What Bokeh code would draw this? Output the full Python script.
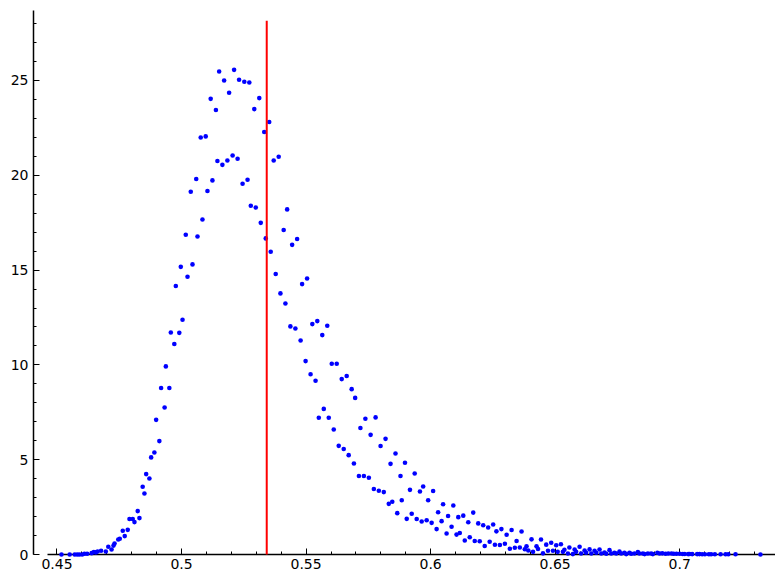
from bokeh.plotting import figure
from bokeh.models import Range1d, SingleIntervalTicker, CustomJSTickFormatter, LinearAxis
from bokeh.embed import file_html
from bokeh.resources import INLINE

# sample ratio values (x) and estimated density (y)
ratio = [
    0.4518, 0.4551, 0.4571, 0.4581, 0.4590, 0.4601, 0.4610, 0.4621, 0.4639, 0.4648,
    0.4656, 0.4663, 0.4677, 0.4696, 0.4706, 0.4719, 0.4727, 0.4731, 0.4746, 0.4752,
    0.4764, 0.4772, 0.4784, 0.4791, 0.4804, 0.4811, 0.4824, 0.4831, 0.4844, 0.4851,
    0.4858, 0.4871, 0.4878, 0.4891, 0.4898, 0.4911, 0.4918, 0.4932, 0.4937, 0.4951,
    0.4957, 0.4971, 0.4977, 0.4991, 0.4997, 0.5004, 0.5017, 0.5024, 0.5037, 0.5044,
    0.5059, 0.5064, 0.5077, 0.5084, 0.5097, 0.5104, 0.5117, 0.5124, 0.5138, 0.5144,
    0.5151, 0.5164, 0.5171, 0.5184, 0.5191, 0.5205, 0.5211, 0.5225, 0.5231, 0.5245,
    0.5252, 0.5265, 0.5272, 0.5278, 0.5292, 0.5298, 0.5312, 0.5318, 0.5332, 0.5338,
    0.5352, 0.5358, 0.5370, 0.5378, 0.5390, 0.5397, 0.5410, 0.5417, 0.5424, 0.5437,
    0.5444, 0.5457, 0.5464, 0.5478, 0.5484, 0.5498, 0.5504, 0.5518, 0.5525, 0.5538,
    0.5545, 0.5551, 0.5565, 0.5571, 0.5585, 0.5591, 0.5603, 0.5611, 0.5623, 0.5631,
    0.5643, 0.5651, 0.5663, 0.5671, 0.5683, 0.5692, 0.5697, 0.5712, 0.5718, 0.5732,
    0.5738, 0.5752, 0.5759, 0.5772, 0.5779, 0.5792, 0.5799, 0.5812, 0.5819, 0.5832,
    0.5839, 0.5846, 0.5859, 0.5866, 0.5879, 0.5884, 0.5897, 0.5904, 0.5917, 0.5924,
    0.5936, 0.5944, 0.5957, 0.5964, 0.5970, 0.5984, 0.5990, 0.6004, 0.6010, 0.6024,
    0.6030, 0.6044, 0.6050, 0.6064, 0.6070, 0.6084, 0.6091, 0.6104, 0.6111, 0.6117,
    0.6131, 0.6137, 0.6151, 0.6157, 0.6171, 0.6177, 0.6191, 0.6197, 0.6211, 0.6217,
    0.6231, 0.6237, 0.6251, 0.6258, 0.6264, 0.6278, 0.6284, 0.6298, 0.6305, 0.6318,
    0.6325, 0.6338, 0.6345, 0.6358, 0.6365, 0.6378, 0.6385, 0.6392, 0.6405, 0.6411,
    0.6425, 0.6431, 0.6443, 0.6451, 0.6464, 0.6471, 0.6484, 0.6491, 0.6504, 0.6510,
    0.6523, 0.6531, 0.6537, 0.6551, 0.6557, 0.6571, 0.6578, 0.6584, 0.6598, 0.6604,
    0.6618, 0.6624, 0.6638, 0.6645, 0.6658, 0.6665, 0.6678, 0.6685, 0.6698, 0.6705,
    0.6718, 0.6725, 0.6738, 0.6745, 0.6758, 0.6765, 0.6778, 0.6785, 0.6798, 0.6805,
    0.6818, 0.6832, 0.6838, 0.6852, 0.6859, 0.6872, 0.6885, 0.6892, 0.6910, 0.6919,
    0.6930, 0.6943, 0.6954, 0.6967, 0.6976, 0.6987, 0.7000, 0.7012, 0.7020, 0.7034,
    0.7040, 0.7050, 0.7070, 0.7079, 0.7090, 0.7101, 0.7117, 0.7126, 0.7141, 0.7164,
    0.7184, 0.7195, 0.7224, 0.7324,
]

density = [
    0.0, 0.0, 0.0, 0.0, 0.0, 0.0, 0.04, 0.04, 0.07, 0.13,
    0.11, 0.16, 0.20, 0.16, 0.41, 0.26, 0.47, 0.58, 0.79, 0.83,
    1.25, 0.97, 1.30, 1.87, 1.87, 1.71, 2.29, 1.92, 3.57, 3.22,
    4.24, 4.01, 5.12, 5.38, 7.10, 5.98, 8.78, 7.75, 9.92, 8.78,
    11.71, 11.10, 14.16, 11.69, 15.17, 12.38, 16.86, 14.65, 19.13, 15.30,
    19.80, 16.77, 21.99, 17.67, 22.05, 19.17, 24.03, 19.73, 23.44, 20.75,
    25.47, 20.55, 25.00, 20.78, 24.35, 21.04, 25.56, 20.87, 25.04, 19.55,
    24.93, 19.76, 24.89, 18.39, 23.49, 18.30, 24.07, 17.49, 22.28, 16.67,
    22.81, 15.97, 20.78, 14.79, 20.98, 13.77, 17.11, 13.24, 18.20, 12.03,
    16.33, 11.92, 16.64, 11.29, 14.26, 10.20, 14.56, 9.51, 12.15, 9.16,
    12.31, 7.21, 11.57, 7.68, 12.06, 7.21, 10.06, 6.59, 10.06, 5.73,
    9.25, 5.56, 9.41, 5.24, 8.72, 4.80, 8.26, 4.14, 6.67, 4.14,
    7.16, 4.05, 6.31, 3.45, 7.23, 3.36, 5.72, 3.29, 6.10, 2.67,
    4.78, 2.78, 5.33, 2.18, 4.14, 2.86, 4.84, 1.88, 3.41, 2.15,
    4.27, 1.87, 3.32, 1.74, 3.59, 1.81, 2.86, 1.67, 3.35, 1.34,
    2.23, 1.76, 2.65, 1.11, 2.03, 1.46, 2.58, 1.05, 1.97, 1.13,
    2.05, 0.74, 1.70, 0.91, 2.21, 0.71, 1.64, 0.70, 1.54, 0.45,
    1.42, 0.67, 1.58, 0.51, 1.22, 0.50, 1.34, 0.57, 1.04, 0.30,
    1.29, 0.36, 0.71, 0.37, 1.21, 0.28, 0.43, 0.21, 0.80, 0.14,
    0.43, 0.29, 0.79, 0.06, 0.52, 0.20, 0.62, 0.20, 0.49, 0.14,
    0.54, 0.14, 0.25, 0.05, 0.37, 0.02, 0.26, 0.14, 0.41, 0.05,
    0.21, 0.09, 0.27, 0.05, 0.20, 0.09, 0.26, 0.05, 0.11, 0.04,
    0.23, 0.05, 0.09, 0.05, 0.15, 0.05, 0.09, 0.02, 0.09, 0.04,
    0.05, 0.13, 0.05, 0.05, 0.02, 0.05, 0.05, 0.02, 0.09, 0.05,
    0.06, 0.04, 0.05, 0.05, 0.04, 0.04, 0.04, 0.03, 0.03, 0.02,
    0.03, 0.02, 0.02, 0.02, 0.01, 0.01, 0.01, 0.01, 0.01, 0.01,
    0.01, 0.01, 0.01, 0.0,
]

# vertical marker (mean) and its height
marker_x = [0.5342, 0.5342]
marker_y = [0.0, 28.15]

x_tick_step = 0.05
y_tick_step = 5

FONT = "DejaVu Sans"

p = figure(
    width=775, height=576,
    output_backend="svg", toolbar_location=None,
    x_range=Range1d(0.44057, 0.73844), y_range=Range1d(0.0, 28.69),
    x_axis_type=None, y_axis_type=None,
    min_border_left=33, min_border_right=0, min_border_top=10, min_border_bottom=22,
)
p.outline_line_color = None
p.background_fill_color = "white"
p.border_fill_color = "white"

fmt = CustomJSTickFormatter(code="return Number(tick.toFixed(6)).toString();")

xaxis = LinearAxis(
    ticker=SingleIntervalTicker(interval=x_tick_step, num_minor_ticks=5),
    formatter=fmt,
    bounds=(0.4461, 0.7384),
)
yaxis = LinearAxis(
    ticker=SingleIntervalTicker(interval=y_tick_step, num_minor_ticks=5),
    formatter=fmt,
)
for ax, standoff in ((xaxis, 4), (yaxis, 5)):
    ax.axis_line_color = "black"
    ax.axis_line_width = 1.5
    ax.major_tick_in = 6
    ax.major_tick_out = 0
    ax.minor_tick_in = 3
    ax.minor_tick_out = 0
    ax.major_tick_line_color = "black"
    ax.minor_tick_line_color = "black"
    ax.major_tick_line_width = 1
    ax.minor_tick_line_width = 1
    ax.major_label_text_font = FONT
    ax.major_label_text_font_size = "14px"
    ax.major_label_text_color = "black"
    ax.major_label_standoff = standoff
p.add_layout(xaxis, "below")
p.add_layout(yaxis, "left")

p.scatter(ratio, density, marker="circle", size=4.6,
          fill_color="#0000ff", line_color=None, level="overlay")
p.line(marker_x, marker_y, line_color="#ff0000", line_width=2, level="overlay")

open("out.html", "w").write(file_html(p, INLINE))
